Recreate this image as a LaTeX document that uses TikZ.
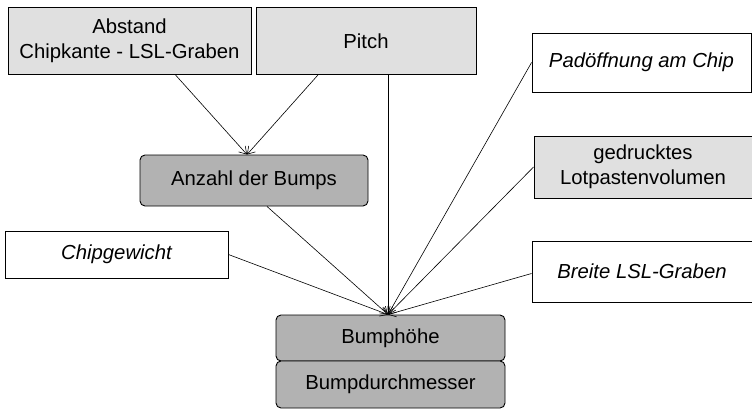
\documentclass[tikz,border=0pt]{standalone}
\usepackage{fontspec}
\setmainfont{Liberation Sans}
\usetikzlibrary{arrows.meta,positioning,calc}

\definecolor{hellgrau}{HTML}{E0E0E0}
\definecolor{dunkelgrau}{HTML}{B2B2B2}

\tikzset{
  kasten/.style={draw,line width=0.9pt,align=center,inner sep=2pt},
  eingang/.style={kasten,fill=hellgrau},
  zwischen/.style={kasten,fill=dunkelgrau,rounded corners=5pt},
  extern/.style={kasten,fill=white,font=\fontsize{20.3}{25.5}\selectfont\itshape},
  pfeil/.style={line width=0.6pt,-{Straight Barb[length=7pt,width=9pt]}},
}

\begin{document}
\begin{tikzpicture}[x=1pt,y=-1pt,font=\fontsize{20.3}{25.5}\selectfont]
  \useasboundingbox (0,0) rectangle (752,409);

  % obere Reihe
  \node[eingang,minimum width=243pt,minimum height=67pt] (abstand) at (129.5,41)
    {Abstand\\Chipkante - LSL-Graben};
  \node[eingang,minimum width=220pt,minimum height=67pt] (pitch) at (366,41) {Pitch};
  \node[zwischen,minimum width=228pt,minimum height=51pt] (anzahl) at (254,180.5)
    {Anzahl der Bumps};

  % rechte Spalte
  \node[extern,minimum width=219pt,minimum height=59pt] (padoeff) at (641.5,62.5)
    {Pad\"offnung am Chip};
  \node[eingang,minimum width=218pt,minimum height=62pt] (lotpaste) at (643,167)
    {gedrucktes\\Lotpastenvolumen};
  \node[extern,minimum width=220pt,minimum height=61pt] (breite) at (642,271.5)
    {Breite LSL-Graben};
  \node[extern,minimum width=223pt,minimum height=47pt] (gewicht) at (116.5,254.5)
    {Chipgewicht};

  % Zielgroessen
  \node[zwischen,minimum width=229pt,minimum height=46pt] (hoehe) at (390.5,338)
    {Bumph\"ohe};
  \node[zwischen,minimum width=229pt,minimum height=47pt] (durchm) at (390.5,384.5)
    {Bumpdurchmesser};
  \coordinate (ziel) at ([xshift=-2.5pt]hoehe.north);

  \draw[pfeil] ([xshift=46pt]abstand.south) -- ([xshift=-7pt]anzahl.north);
  \draw[pfeil] ([xshift=-48pt]pitch.south) -- ([xshift=-7pt]anzahl.north);
  \draw[pfeil] ([xshift=22pt]pitch.south) -- (ziel);
  \draw[pfeil] ([xshift=13pt]anzahl.south) -- (ziel);
  \draw[pfeil] (padoeff.west) -- (ziel);
  \draw[pfeil] (lotpaste.west) -- (ziel);
  \draw[pfeil] (gewicht.east) -- (ziel);
  \draw[pfeil] ([yshift=-2pt]breite.west) -- (ziel);
\end{tikzpicture}
\end{document}
